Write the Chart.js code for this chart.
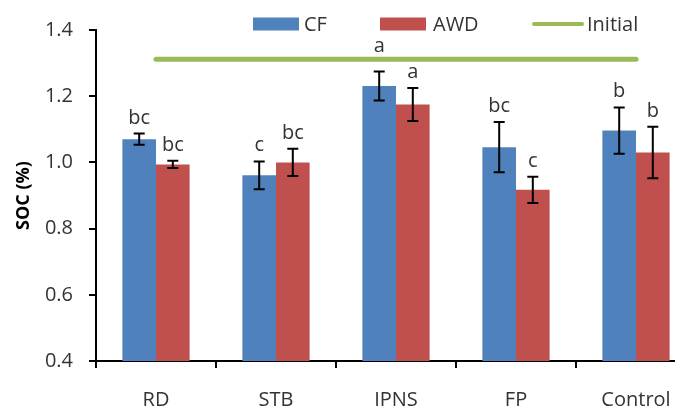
<!DOCTYPE html>
<html>
<head>
<meta charset="utf-8">
<script src="https://cdn.jsdelivr.net/npm/chart.js@4/dist/chart.umd.min.js"></script>
<style>
  html, body { margin: 0; padding: 0; overflow: hidden; background: #fff; }
  #wrap { width: 700px; height: 407px; }
</style>
</head>
<body>
<div id="wrap"><canvas id="c" width="700" height="407"></canvas></div>
<script>
// Soil organic carbon by treatment and water regime
const categories = ['RD', 'STB', 'IPNS', 'FP', 'Control'];
const cfValues   = [1.070, 0.961, 1.231, 1.046, 1.096];
const cfErrors   = [0.017, 0.042, 0.044, 0.076, 0.070];
const awdValues  = [0.994, 1.000, 1.175, 0.917, 1.030];
const awdErrors  = [0.011, 0.041, 0.050, 0.040, 0.078];
const initialLevel = [1.312, 1.312, 1.312, 1.312, 1.312];
const cfLetters  = ['bc', 'c', 'a', 'bc', 'b'];
const awdLetters = ['bc', 'bc', 'a', 'c', 'b'];
const yTickValues = [0.4, 0.6, 0.8, 1.0, 1.2, 1.4];

const FONT = "'Open Sans', sans-serif";
const FONT_SIZE = 20;
const TEXT = '#333333';
const COLORS = { cf: '#4F81BD', awd: '#C0504D', initial: '#9BBB59' };

// error bars and significance letters on top of the bars
const barAnnotations = {
  id: 'barAnnotations',
  afterDatasetsDraw(chart) {
    const ctx = chart.ctx;
    const y = chart.scales.y;
    const lineY = y.getPixelForValue(initialLevel[0]);
    const groups = [
      { index: 0, values: cfValues, errors: cfErrors, letters: cfLetters },
      { index: 1, values: awdValues, errors: awdErrors, letters: awdLetters }
    ];
    ctx.save();
    ctx.font = FONT_SIZE + 'px ' + FONT;
    ctx.textAlign = 'center';
    ctx.textBaseline = 'alphabetic';
    groups.forEach(g => {
      chart.getDatasetMeta(g.index).data.forEach((bar, i) => {
        const x = bar.x;
        const top = y.getPixelForValue(g.values[i] + g.errors[i]);
        const bottom = y.getPixelForValue(g.values[i] - g.errors[i]);
        ctx.strokeStyle = '#000';
        ctx.lineWidth = 2;
        ctx.beginPath();
        ctx.moveTo(x, top); ctx.lineTo(x, bottom);
        ctx.moveTo(x - 5.5, top); ctx.lineTo(x + 5.5, top);
        ctx.moveTo(x - 5.5, bottom); ctx.lineTo(x + 5.5, bottom);
        ctx.stroke();
        let base = top - 10;
        // keep the letter clear of the reference line
        if (base > lineY - 6 && base - 13 < lineY + 4) base = lineY - 7;
        ctx.fillStyle = TEXT;
        ctx.fillText(g.letters[i], x, base);
      });
    });
    ctx.restore();
  }
};

// legend row across the top
const legendSlots = [
  { box: 253, text: 304 },
  { box: 380, text: 433 },
  { box: 533, text: 587 }
];
const topLegend = {
  id: 'topLegend',
  afterDraw(chart) {
    const ctx = chart.ctx;
    const cy = 24;
    ctx.save();
    ctx.font = FONT_SIZE + 'px ' + FONT;
    ctx.textBaseline = 'middle';
    ctx.textAlign = 'left';
    chart.data.datasets.forEach((d, i) => {
      const slot = legendSlots[i];
      if (d.type === 'line') {
        ctx.strokeStyle = d.borderColor;
        ctx.lineWidth = 4;
        ctx.lineCap = 'round';
        ctx.beginPath();
        ctx.moveTo(slot.box + 1, cy); ctx.lineTo(slot.box + 49, cy);
        ctx.stroke();
      } else {
        ctx.fillStyle = d.backgroundColor;
        ctx.fillRect(slot.box, cy - 6.5, 46, 13);
      }
      ctx.fillStyle = TEXT;
      ctx.fillText(d.label, slot.text, cy + 1);
    });
    ctx.restore();
  }
};

new Chart(document.getElementById('c'), {
  data: {
    labels: categories,
    datasets: [
      { type: 'bar', label: 'CF', data: cfValues, backgroundColor: COLORS.cf, order: 1,
        categoryPercentage: 0.56, barPercentage: 1.0 },
      { type: 'bar', label: 'AWD', data: awdValues, backgroundColor: COLORS.awd, order: 1,
        categoryPercentage: 0.56, barPercentage: 1.0 },
      { type: 'line', label: 'Initial', data: initialLevel, borderColor: COLORS.initial,
        backgroundColor: COLORS.initial, borderWidth: 5, borderCapStyle: 'round',
        pointRadius: 0, fill: false, order: 0 }
    ]
  },
  options: {
    responsive: false,
    animation: false,
    devicePixelRatio: 1,
    layout: { padding: { top: 30, right: 4, left: 0, bottom: 0 } },
    plugins: { legend: { display: false }, tooltip: { enabled: false } },
    scales: {
      x: {
        offset: true,
        grid: { display: true, drawOnChartArea: false, drawTicks: true, tickLength: 7,
                color: '#000', lineWidth: 2, offset: true },
        border: { display: true, color: '#000', width: 2 },
        ticks: { font: { family: FONT, size: FONT_SIZE }, color: TEXT, padding: 20 },
        afterFit(s) { s.height = 46; }
      },
      y: {
        min: 0.4, max: 1.4,
        afterBuildTicks(s) { s.ticks = yTickValues.map(v => ({ value: v })); },
        grid: { display: true, drawOnChartArea: false, drawTicks: true, tickLength: 7,
                color: '#000', lineWidth: 2 },
        border: { display: true, color: '#000', width: 2 },
        ticks: { font: { family: FONT, size: FONT_SIZE }, color: TEXT, padding: 16,
                 callback: v => Number(v).toFixed(1) },
        title: { display: true, text: 'SOC (%)', color: '#000',
                 font: { family: FONT, size: 18, weight: 'bold' }, padding: { top: 13 } },
        afterFit(s) { s.width = 96; }
      }
    }
  },
  plugins: [barAnnotations, topLegend]
});
</script>
</body>
</html>
